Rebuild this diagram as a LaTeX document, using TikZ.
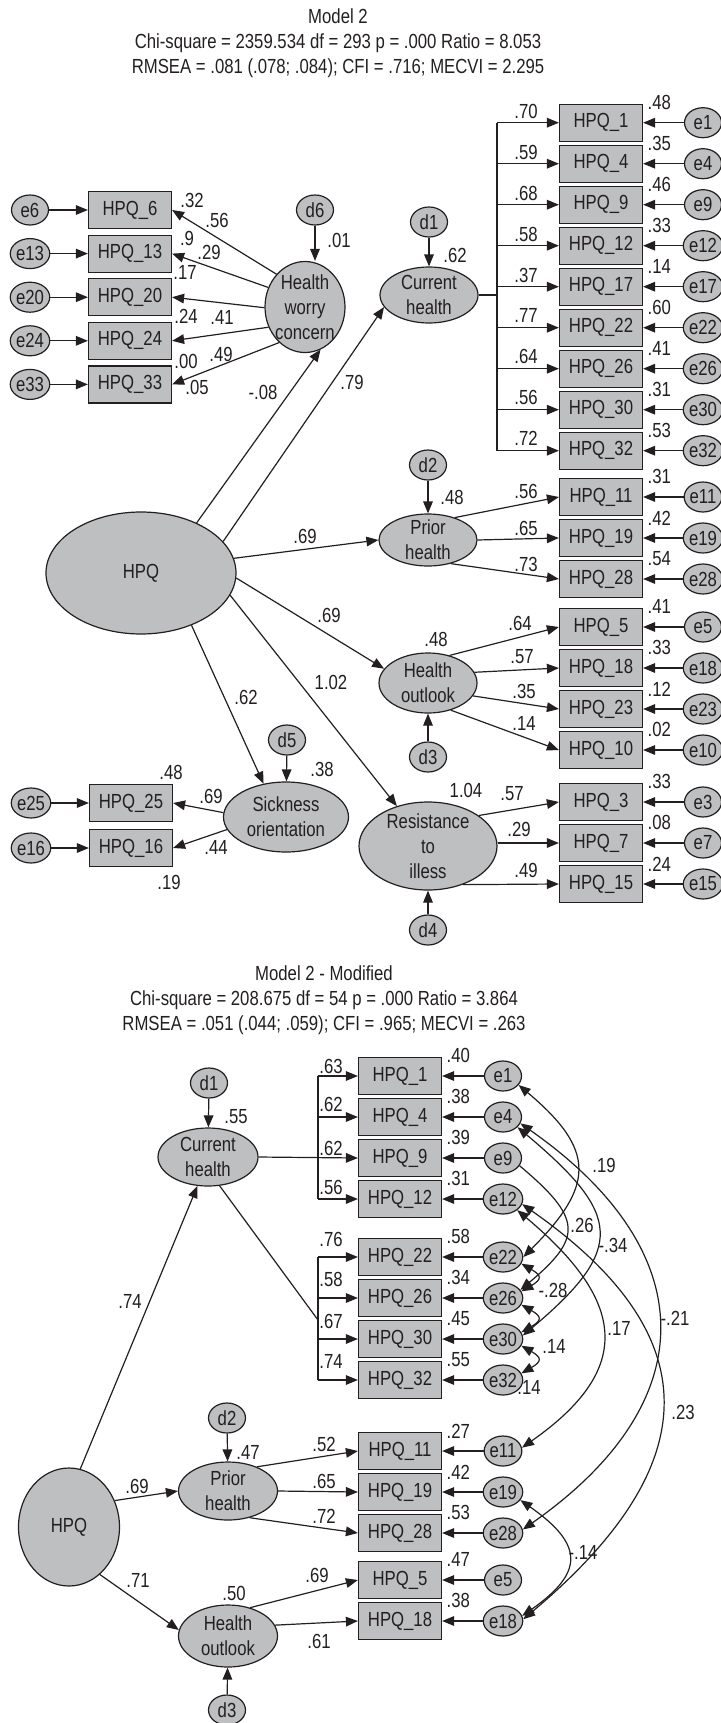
\documentclass[tikz,border=0pt]{standalone}
\usepackage{fontspec}
\setmainfont[FakeStretch=0.82]{Liberation Sans}
\usetikzlibrary{arrows.meta,shapes.geometric,positioning}
\definecolor{semgray}{RGB}{190,191,193}
\definecolor{semink}{RGB}{35,31,32}
\newcommand{\semfont}{\fontsize{10.2}{12.5}\selectfont}

\begin{document}
\begin{tikzpicture}[>={Triangle[length=6pt,width=4.8pt]},x=0.5pt,y=-0.5pt,color=semink,line width=0.6pt,font=\semfont,node distance=20.5pt,
obs/.style={rectangle,draw,fill=semgray,minimum width=41.5pt,minimum height=18.5pt,inner sep=0pt},
err/.style={ellipse,draw,fill=semgray,minimum width=18.5pt,minimum height=15pt,inner sep=0pt},
lat/.style={ellipse,draw,fill=semgray,inner sep=-2pt,align=center},
coef/.style={inner sep=0pt},
rsq/.style={inner sep=0pt,anchor=west,xshift=2pt,yshift=0.5pt}]
\useasboundingbox (0,0) rectangle (720,1723);

\node[align=center] (ttl) at (338,43) {Model 2\\Chi-square = 2359.534 df = 293 p = .000 Ratio = 8.053\\RMSEA = .081 (.078; .084); CFI = .716; MECVI = 2.295};

\node[lat,minimum width=95pt,minimum height=61pt]   (hpq) at (141,573) {HPQ};
\node[lat,minimum width=40pt,minimum height=45.5pt] (hwc) at (305,307) {Health\\worry\\concern};
\node[lat,minimum width=49pt,minimum height=28pt]   (cur) at (429,295) {Current\\health};
\node[lat,minimum width=49pt,minimum height=26pt]   (pri) at (428,540) {Prior\\health};
\node[lat,minimum width=49pt,minimum height=30pt]   (out) at (428,683) {Health\\outlook};
\node[lat,minimum width=69pt,minimum height=44pt]   (res) at (428,846) {Resistance\\to\\illess};
\node[lat,minimum width=62.5pt,minimum height=35pt] (sic) at (286,817) {Sickness\\orientation};

\node[err] (d1) at (429,222) {d1};
\node[err] (d2) at (428,465) {d2};
\node[err] (d3) at (428,757) {d3};
\node[err] (d4) at (428,930) {d4};
\node[err] (d5) at (287,740) {d5};
\node[err] (d6) at (315,210) {d6};

\node[obs] (h1)  at (601,122.7)   {HPQ\_1};
\node[obs] (h4)  [below of=h1]    {HPQ\_4};
\node[obs] (h9)  [below of=h4]    {HPQ\_9};
\node[obs] (h12) [below of=h9]    {HPQ\_12};
\node[obs] (h17) [below of=h12]   {HPQ\_17};
\node[obs] (h22) [below of=h17]   {HPQ\_22};
\node[obs] (h26) [below of=h22]   {HPQ\_26};
\node[obs] (h30) [below of=h26]   {HPQ\_30};
\node[obs] (h32) [below of=h30]   {HPQ\_32};
\node[obs] (h11) at (601,497)     {HPQ\_11};
\node[obs] (h19) [below of=h11]   {HPQ\_19};
\node[obs] (h28) [below of=h19]   {HPQ\_28};
\node[obs] (h5)  at (601,627)     {HPQ\_5};
\node[obs] (h18) [below of=h5]    {HPQ\_18};
\node[obs] (h23) [below of=h18]   {HPQ\_23};
\node[obs] (h10) [below of=h23]   {HPQ\_10};
\node[obs] (h3)  at (601,802)     {HPQ\_3};
\node[obs] (h7)  [below of=h3]    {HPQ\_7};
\node[obs] (h15) [below of=h7]    {HPQ\_15};
\node[obs] (h6)  at (130,210)     {HPQ\_6};
\node[obs] (h13) [node distance=21.8pt,below of=h6]  {HPQ\_13};
\node[obs] (h20) [node distance=21.8pt,below of=h13] {HPQ\_20};
\node[obs] (h24) [node distance=21.8pt,below of=h20] {HPQ\_24};
\node[obs] (h33) [node distance=21.8pt,below of=h24] {HPQ\_33};
\node[obs] (h25) at (131,803)     {HPQ\_25};
\node[obs] (h16) [node distance=22.5pt,below of=h25] {HPQ\_16};

\node[err] (e1)  [node distance=51pt,right of=h1]  {e1};
\node[err] (e4)  [node distance=51pt,right of=h4]  {e4};
\node[err] (e9)  [node distance=51pt,right of=h9]  {e9};
\node[err] (e12) [node distance=51pt,right of=h12] {e12};
\node[err] (e17) [node distance=51pt,right of=h17] {e17};
\node[err] (e22) [node distance=51pt,right of=h22] {e22};
\node[err] (e26) [node distance=51pt,right of=h26] {e26};
\node[err] (e30) [node distance=51pt,right of=h30] {e30};
\node[err] (e32) [node distance=51pt,right of=h32] {e32};
\node[err] (e11) [node distance=51pt,right of=h11] {e11};
\node[err] (e19) [node distance=51pt,right of=h19] {e19};
\node[err] (e28) [node distance=51pt,right of=h28] {e28};
\node[err] (e5)  [node distance=51pt,right of=h5]  {e5};
\node[err] (e18) [node distance=51pt,right of=h18] {e18};
\node[err] (e23) [node distance=51pt,right of=h23] {e23};
\node[err] (e10) [node distance=51pt,right of=h10] {e10};
\node[err] (e3)  [node distance=51pt,right of=h3]  {e3};
\node[err] (e7)  [node distance=51pt,right of=h7]  {e7};
\node[err] (e15) [node distance=51pt,right of=h15] {e15};
\node[err] (e6)  [node distance=50pt,left of=h6]   {e6};
\node[err] (e13) [node distance=50pt,left of=h13]  {e13};
\node[err] (e20) [node distance=50pt,left of=h20]  {e20};
\node[err] (e24) [node distance=50pt,left of=h24]  {e24};
\node[err] (e33) [node distance=50pt,left of=h33]  {e33};
\node[err] (e25) [node distance=50pt,left of=h25]  {e25};
\node[err] (e16) [node distance=50pt,left of=h16]  {e16};

\coordinate (fk) at (497,295);
\draw (cur.east) -- (fk);
\draw (fk |- h1) -- (fk |- h32);

\path[->] (fk |- h1) edge (h1)
(fk |- h4) edge (h4)
(fk |- h9) edge (h9)
(fk |- h12) edge (h12)
(fk |- h17) edge (h17)
(fk |- h22) edge (h22)
(fk |- h26) edge (h26)
(fk |- h30) edge (h30)
(fk |- h32) edge (h32)
(e1) edge (h1) (e4) edge (h4) (e9) edge (h9) (e12) edge (h12) (e17) edge (h17)
(e22) edge (h22) (e26) edge (h26) (e30) edge (h30) (e32) edge (h32)
(e11) edge (h11) (e19) edge (h19) (e28) edge (h28)
(e5) edge (h5) (e18) edge (h18) (e23) edge (h23) (e10) edge (h10)
(e3) edge (h3) (e7) edge (h7) (e15) edge (h15)
(e6) edge (h6) (e13) edge (h13) (e20) edge (h20) (e24) edge (h24) (e33) edge (h33)
(e25) edge (h25) (e16) edge (h16)
(hpq.42)  edge (hwc.-70)
(hpq.21)  edge (cur.-165)
(hpq.9)   edge (pri.west)
(hpq.-3)  edge (out.162)
(hpq.-14) edge (res.128)
(hpq.-46) edge (sic.124)
(hwc.131) edge (h6.east)
(hwc.152) edge (h13.east)
(hwc.181) edge (h20.east)
(hwc.209) edge (h24.east)
(hwc.234) edge (h33.east)
(pri.40)  edge (h11.west)
(pri.east) edge (h19.west)
(pri.-46) edge (h28.west)
(out.52)  edge (h5.west)
(out.13)  edge (h18.west)
(out.-16) edge (h23.west)
(out.-50) edge (h10.west)
(res.31)  edge (h3.west)
(res.east |- h7) edge (h7.west)
(res.-48) edge (h15.west)
(sic.176) edge (h25.east)
(sic.192) edge (h16.east)
(d1) edge (cur) (d2) edge (pri) (d3) edge (out) (d4) edge (res) (d5) edge (sic)
(d6) edge (d6 |- hwc.north);

\node[coef] (l1) at (526,111) {.70};
\node[coef] (l2) at (526,152) {.59};
\node[coef] (l3) at (526,193) {.68};
\node[coef] (l4) at (526,234) {.58};
\node[coef] (l5) at (526,275) {.37};
\node[coef] (l6) at (526,315) {.77};
\node[coef] (l7) at (526,356) {.64};
\node[coef] (l8) at (526,397) {.56};
\node[coef] (l9) at (526,438) {.72};
\node[coef] (l10) at (452,497) {.48};
\node[coef] (l11) at (526,491) {.56};
\node[coef] (l12) at (526,528) {.65};
\node[coef] (l13) at (526,564) {.73};
\node[coef] (l14) at (436,639) {.48};
\node[coef] (l15) at (520,623) {.64};
\node[coef] (l16) at (522,657) {.57};
\node[coef] (l17) at (524,691) {.35};
\node[coef] (l18) at (524,723) {.14};
\node[coef] (l19) at (466,790) {1.04};
\node[coef] (l20) at (512,794) {.57};
\node[coef] (l21) at (519,829) {.29};
\node[coef] (l22) at (526,870) {.49};
\node[coef] (l23) at (455,255) {.62};
\node[coef] (l24) at (339,240) {.01};
\node[coef] (l25) at (322,769) {.38};
\node[coef] (l26) at (263,392) {-.08};
\node[coef] (l27) at (352,382) {.79};
\node[coef] (l28) at (305,536) {.69};
\node[coef] (l29) at (329,615) {.69};
\node[coef] (l30) at (331,682) {1.02};
\node[coef] (l31) at (246,697) {.62};
\node[coef] (l32) at (192,200) {.32};
\node[coef] (l33) at (217,220) {.56};
\node[coef] (l34) at (187,238) {.9};
\node[coef] (l35) at (209,252) {.29};
\node[coef] (l36) at (185,272) {.17};
\node[coef] (l37) at (186,316) {.24};
\node[coef] (l38) at (222,317) {.41};
\node[coef] (l39) at (186,361) {.00};
\node[coef] (l40) at (221,354) {.49};
\node[coef] (l41) at (197,387) {.05};
\node[coef] (l42) at (171,772) {.48};
\node[coef] (l43) at (169,882) {.19};
\node[coef] (l44) at (211,796) {.69};
\node[coef] (l45) at (216,847) {.44};

\node[rsq] (r1)  at (h1.north east)  {.48};
\node[rsq] (r4)  at (h4.north east)  {.35};
\node[rsq] (r9)  at (h9.north east)  {.46};
\node[rsq] (r12) at (h12.north east) {.33};
\node[rsq] (r17) at (h17.north east) {.14};
\node[rsq] (r22) at (h22.north east) {.60};
\node[rsq] (r26) at (h26.north east) {.41};
\node[rsq] (r30) at (h30.north east) {.31};
\node[rsq] (r32) at (h32.north east) {.53};
\node[rsq] (r11) at (h11.north east) {.31};
\node[rsq] (r19) at (h19.north east) {.42};
\node[rsq] (r28) at (h28.north east) {.54};
\node[rsq] (r5)  at (h5.north east)  {.41};
\node[rsq] (r18) at (h18.north east) {.33};
\node[rsq] (r23) at (h23.north east) {.12};
\node[rsq] (r10) at (h10.north east) {.02};
\node[rsq] (r3)  at (h3.north east)  {.33};
\node[rsq] (r7)  at (h7.north east)  {.08};
\node[rsq] (r15) at (h15.north east) {.24};

\node[align=center] (mttl) at (324,1000) {Model 2 - Modified\\Chi-square = 208.675 df = 54 p = .000 Ratio = 3.864\\RMSEA = .051 (.044; .059); CFI = .965; MECVI = .263};

\node[lat,minimum width=50.5pt,minimum height=59pt] (mhpq) at (69,1527)  {HPQ};
\node[lat,minimum width=50pt,minimum height=29pt]   (mcur) at (208,1157) {Current\\health};
\node[lat,minimum width=49.5pt,minimum height=29pt] (mpri) at (228,1491) {Prior\\health};
\node[lat,minimum width=49.5pt,minimum height=31pt] (mout) at (228,1636) {Health\\outlook};
\node[err] (md1) at (209,1083) {d1};
\node[err] (md2) at (227,1418) {d2};
\node[err] (md3) at (227,1710) {d3};

\node[obs] (mh1)  at (400,1076)    {HPQ\_1};
\node[obs] (mh4)  [below of=mh1]   {HPQ\_4};
\node[obs] (mh9)  [below of=mh4]   {HPQ\_9};
\node[obs] (mh12) [below of=mh9]   {HPQ\_12};
\node[obs] (mh22) at (400,1257)    {HPQ\_22};
\node[obs] (mh26) [below of=mh22]  {HPQ\_26};
\node[obs] (mh30) [below of=mh26]  {HPQ\_30};
\node[obs] (mh32) [below of=mh30]  {HPQ\_32};
\node[obs] (mh11) at (400,1451)    {HPQ\_11};
\node[obs] (mh19) [below of=mh11]  {HPQ\_19};
\node[obs] (mh28) [below of=mh19]  {HPQ\_28};
\node[obs] (mh5)  at (400,1580)    {HPQ\_5};
\node[obs] (mh18) [below of=mh5]   {HPQ\_18};

\node[err] (me1)  [node distance=51.5pt,right of=mh1]  {e1};
\node[err] (me4)  [node distance=51.5pt,right of=mh4]  {e4};
\node[err] (me9)  [node distance=51.5pt,right of=mh9]  {e9};
\node[err] (me12) [node distance=51.5pt,right of=mh12] {e12};
\node[err] (me22) [node distance=51.5pt,right of=mh22] {e22};
\node[err] (me26) [node distance=51.5pt,right of=mh26] {e26};
\node[err] (me30) [node distance=51.5pt,right of=mh30] {e30};
\node[err] (me32) [node distance=51.5pt,right of=mh32] {e32};
\node[err] (me11) [node distance=51.5pt,right of=mh11] {e11};
\node[err] (me19) [node distance=51.5pt,right of=mh19] {e19};
\node[err] (me28) [node distance=51.5pt,right of=mh28] {e28};
\node[err] (me5)  [node distance=51.5pt,right of=mh5]  {e5};
\node[err] (me18) [node distance=51.5pt,right of=mh18] {e18};

\coordinate (mfk) at (318,1157);
\coordinate (mfk2) at (318,1320);
\draw (mfk |- mh1) -- (mfk |- mh12);
\draw (mfk2 |- mh22) -- (mfk2 |- mh32);
\draw (mcur.-68) -- (mfk2);

\path[->] (mfk |- mh1) edge (mh1)
(mfk |- mh4) edge (mh4)
(mfk |- mh12) edge (mh12)
(mfk2 |- mh22) edge (mh22)
(mfk2 |- mh26) edge (mh26)
(mfk2 |- mh30) edge (mh30)
(mfk2 |- mh32) edge (mh32)
(mcur.east) edge (mh9.west)
(me1) edge (mh1) (me4) edge (mh4) (me9) edge (mh9) (me12) edge (mh12)
(me22) edge (mh22) (me26) edge (mh26) (me30) edge (mh30) (me32) edge (mh32)
(me11) edge (mh11) (me19) edge (mh19) (me28) edge (mh28)
(me5) edge (mh5) (me18) edge (mh18)
(mhpq.79)  edge (mcur.-110)
(mhpq.30)  edge (mpri.west)
(mhpq.-57) edge (mout.173)
(mpri.40)  edge (mh11.west)
(mpri.east) edge (mh19.west)
(mpri.-51) edge (mh28.west)
(mout.52)  edge (mh5.west)
(mout.13)  edge (mh18.west)
(md1) edge (mcur) (md2) edge (mpri) (md3) edge (mout)
(me9.-25) edge[out=-40,in=40,looseness=1.68] (me26.25);

\path[<->] (me1.-30) edge[out=-40,in=45,looseness=1.5] (me22.east)
(me4.-20)  edge[out=-35,in=35,looseness=1.4] (me28.10)
(me4.-35)  edge[out=-40,in=40,looseness=1.66] (me30.10)
(me12.-15) edge[out=-35,in=40,looseness=1.44] (me18.5)
(me12.-38) edge[out=-40,in=35,looseness=1.5] (me11.10)
(me19.-25) edge[out=-35,in=35,looseness=1.69] (me18.15)
(me22.-20) edge[out=-30,in=30,looseness=2.2] (me26.20)
(me26.-20) edge[out=-30,in=30,looseness=2.2] (me30.20)
(me30.-20) edge[out=-30,in=30,looseness=2.2] (me32.20);

\node[coef] (n1) at (331,1066) {.63};
\node[coef] (n2) at (331,1104) {.62};
\node[coef] (n3) at (331,1148) {.62};
\node[coef] (n4) at (331,1187) {.56};
\node[coef] (n5) at (331,1239) {.76};
\node[coef] (n6) at (331,1279) {.58};
\node[coef] (n7) at (331,1321) {.67};
\node[coef] (n8) at (331,1361) {.74};
\node[coef] (n9) at (236,1117) {.55};
\node[coef] (n10) at (130,1301) {.74};
\node[coef] (n11) at (248,1452) {.47};
\node[coef] (n12) at (137,1486) {.69};
\node[coef] (n13) at (324,1444) {.52};
\node[coef] (n14) at (324,1481) {.65};
\node[coef] (n15) at (324,1516) {.72};
\node[coef] (n16) at (138,1580) {.71};
\node[coef] (n17) at (234,1593) {.50};
\node[coef] (n18) at (317,1575) {.69};
\node[coef] (n19) at (319,1641) {.61};
\node[coef] (n20) at (604,1165) {.19};
\node[coef] (n21) at (582,1225) {.26};
\node[coef] (n22) at (613,1245) {-.34};
\node[coef] (n23) at (553,1290) {-.28};
\node[coef] (n24) at (619,1328) {.17};
\node[coef] (n25) at (675,1318) {-.21};
\node[coef] (n26) at (554,1346) {.14};
\node[coef] (n27) at (529,1387) {.14};
\node[coef] (n28) at (683,1412) {.23};
\node[coef] (n29) at (583,1552) {-.14};

\node[rsq] (mr1)  at (mh1.north east)  {.40};
\node[rsq] (mr4)  at (mh4.north east)  {.38};
\node[rsq] (mr9)  at (mh9.north east)  {.39};
\node[rsq] (mr12) at (mh12.north east) {.31};
\node[rsq] (mr22) at (mh22.north east) {.58};
\node[rsq] (mr26) at (mh26.north east) {.34};
\node[rsq] (mr30) at (mh30.north east) {.45};
\node[rsq] (mr32) at (mh32.north east) {.55};
\node[rsq] (mr11) at (mh11.north east) {.27};
\node[rsq] (mr19) at (mh19.north east) {.42};
\node[rsq] (mr28) at (mh28.north east) {.53};
\node[rsq] (mr5)  at (mh5.north east)  {.47};
\node[rsq] (mr18) at (mh18.north east) {.38};
\end{tikzpicture}
\end{document}
